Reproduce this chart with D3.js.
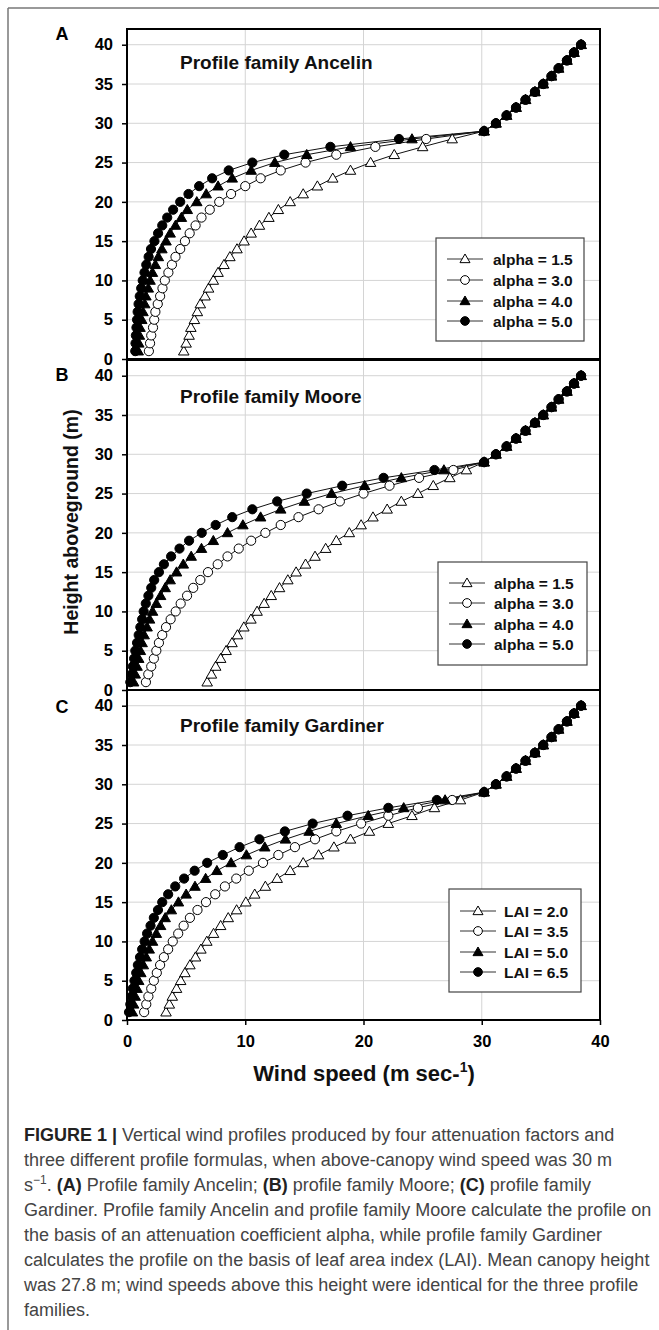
<!DOCTYPE html>
<html>
<head>
<meta charset="utf-8">
<script src="https://cdn.jsdelivr.net/npm/d3@7"></script>
<style>
  html, body { margin: 0; padding: 0; background: #fff; }
  svg { display: block; }
</style>
</head>
<body>
<svg id="chart" width="659" height="1330"></svg>
<script>
// ---------------- DATA ----------------
const heights = [1,2,3,4,5,6,7,8,9,10,11,12,13,14,15,16,17,18,19,20,
                 21,22,23,24,25,26,27,28,29,30,31,32,33,34,35,36,37,38,39,40];
// wind speed above canopy (heights 29..40), identical for all profiles
const aboveCanopy = [30.2, 31.2, 32.1, 32.9, 33.7, 34.5, 35.2, 35.9, 36.5, 37.2, 37.8, 38.4];

// Panel A: Ancelin (heights 1..28)
const ancelin15 = [4.8,5.0,5.25,5.4,5.7,5.95,6.2,6.6,6.9,7.3,7.7,8.2,8.7,9.3,9.9,10.5,11.2,12.0,12.8,13.8,14.9,16.1,17.4,18.9,20.6,22.6,25.0,27.5];
const ancelin30 = [1.85,1.95,2.05,2.2,2.3,2.4,2.6,2.8,3.0,3.2,3.5,3.8,4.1,4.5,4.9,5.3,5.8,6.3,7.0,7.8,8.8,10.0,11.3,13.0,15.1,17.7,21.0,25.3];
const ancelin40 = [0.95,1.0,1.05,1.1,1.25,1.35,1.5,1.6,1.8,1.95,2.15,2.4,2.65,2.95,3.3,3.65,4.1,4.6,5.1,5.9,6.7,7.7,8.9,10.5,12.5,15.2,18.9,24.1];
const ancelin50 = [0.7,0.72,0.75,0.8,0.85,0.9,0.98,1.08,1.2,1.33,1.48,1.63,1.83,2.03,2.32,2.63,2.98,3.4,3.9,4.5,5.2,6.1,7.2,8.6,10.6,13.3,17.2,23.0];

// Panel B: Moore
const moore15 = [6.78,7.14,7.5,7.92,8.38,8.88,9.34,9.88,10.48,11.0,11.6,12.2,12.9,13.6,14.3,15.1,15.9,16.8,17.7,18.8,19.8,20.8,22.0,23.2,24.6,25.9,27.3,28.7];
const moore30 = [1.6,1.8,2.05,2.27,2.48,2.7,2.98,3.3,3.69,4.12,4.54,5.08,5.6,6.2,6.85,7.67,8.5,9.45,10.5,11.7,13.0,14.5,16.2,18.0,20.0,22.2,24.7,27.6];
const moore40 = [0.56,0.7,0.85,0.99,1.13,1.28,1.45,1.7,1.91,2.16,2.48,2.84,3.23,3.65,4.19,4.76,5.43,6.3,7.3,8.5,9.8,11.3,13.0,15.0,17.3,20.1,23.2,26.8];
const moore50 = [0.28,0.39,0.49,0.6,0.7,0.85,0.99,1.13,1.28,1.41,1.59,1.81,2.05,2.3,2.7,3.12,3.73,4.44,5.25,6.32,7.5,8.9,10.6,12.7,15.2,18.2,21.7,26.0];

// Panel C: Gardiner
const gard20 = [3.3,3.58,3.83,4.19,4.54,4.9,5.32,5.79,6.25,6.75,7.32,7.92,8.56,9.27,10.05,10.8,11.7,12.7,13.8,14.9,16.2,17.5,18.9,20.5,22.1,24.1,26.0,28.2];
const gard35 = [1.45,1.63,1.81,2.05,2.27,2.52,2.8,3.12,3.48,3.87,4.33,4.79,5.32,5.96,6.68,7.46,8.28,9.24,10.3,11.5,12.8,14.2,15.9,17.7,19.8,22.1,24.6,27.5];
const gard50 = [0.46,0.56,0.7,0.85,0.99,1.17,1.38,1.63,1.88,2.16,2.48,2.84,3.23,3.75,4.35,5.0,5.75,6.65,7.6,8.8,10.1,11.65,13.4,15.4,17.7,20.4,23.4,26.9];
const gard65 = [0.17,0.28,0.39,0.49,0.63,0.78,0.92,1.1,1.28,1.49,1.7,1.99,2.27,2.62,2.98,3.48,4.08,4.83,5.72,6.78,8.1,9.52,11.2,13.35,15.7,18.65,22.1,26.2];

const xTicks = [0, 10, 20, 30, 40];
const yTicks = [0, 5, 10, 15, 20, 25, 30, 35, 40];
const alphaLabels = ["alpha = 1.5", "alpha = 3.0", "alpha = 4.0", "alpha = 5.0"];
const laiLabels = ["LAI = 2.0", "LAI = 3.5", "LAI = 5.0", "LAI = 6.5"];
const panelLetters = ["A", "B", "C"];
const panelTitles = ["Profile family Ancelin", "Profile family Moore", "Profile family Gardiner"];
const markerTypes = ["openTri", "openCircle", "fillTri", "fillCircle"];

// ---------------- LAYOUT ----------------
const svg = d3.select("#chart");
const FONT = "'Liberation Sans', Arial, Helvetica, sans-serif";

const x = d3.scaleLinear().domain([0, 40]).range([127, 600]);

const panels = [
  { top: 29, bottom: 359, series: [ancelin15, ancelin30, ancelin40, ancelin50], labels: alphaLabels,
    legend: { x: 436, y: 238, w: 148, h: 103, sym: 465, text: 493, rows: [259, 280, 301, 321] },
    titleY: 69, letterY: 40 },
  { top: 360, bottom: 690, series: [moore15, moore30, moore40, moore50], labels: alphaLabels,
    legend: { x: 438, y: 562, w: 149, h: 103, sym: 467, text: 494, rows: [583, 603, 624, 644] },
    titleY: 403, letterY: 381 },
  { top: 690, bottom: 1020, series: [gard20, gard35, gard50, gard65], labels: laiLabels,
    legend: { x: 449, y: 889, w: 132, h: 103, sym: 478, text: 504, rows: [911, 931, 952, 972] },
    titleY: 732, letterY: 713 }
];

// outer figure border (top and left)
svg.append("line").attr("x1", 8).attr("y1", 8).attr("x2", 659).attr("y2", 8)
  .attr("stroke", "#777").attr("stroke-width", 1.5);
svg.append("line").attr("x1", 8).attr("y1", 8).attr("x2", 8).attr("y2", 1330)
  .attr("stroke", "#777").attr("stroke-width", 1.5);

function drawMarker(g, type, cx, cy, scale) {
  const s = scale || 1;
  if (type === "openCircle" || type === "fillCircle") {
    g.append("circle").attr("cx", cx).attr("cy", cy).attr("r", 4.6 * s)
      .attr("fill", type === "fillCircle" ? "#000" : "#fff")
      .attr("stroke", "#000").attr("stroke-width", 1);
  } else {
    const sym = d3.symbol().type(d3.symbolTriangle).size(48 * s * s);
    g.append("path").attr("d", sym()).attr("transform", `translate(${cx},${cy + 0.8 * s})`)
      .attr("fill", type === "fillTri" ? "#000" : "#fff")
      .attr("stroke", "#000").attr("stroke-width", 1);
  }
}

panels.forEach((p, pi) => {
  const y = d3.scaleLinear().domain([0, 42]).range([p.bottom, p.top]);
  const g = svg.append("g");

  // gridlines
  g.append("g").selectAll("line").data(yTicks.filter(t => t > 0)).join("line")
    .attr("x1", x(0)).attr("x2", x(40)).attr("y1", d => y(d)).attr("y2", d => y(d))
    .attr("stroke", "#d4d4d4").attr("stroke-width", 1);
  g.append("g").selectAll("line").data(xTicks.filter(t => t > 0 && t < 40)).join("line")
    .attr("x1", d => x(d)).attr("x2", d => x(d)).attr("y1", p.top).attr("y2", p.bottom)
    .attr("stroke", "#d4d4d4").attr("stroke-width", 1);

  // y axis
  const yAxis = d3.axisLeft(y).tickValues(yTicks).tickSize(5).tickPadding(9);
  const ya = g.append("g").attr("transform", `translate(${x(0)},0)`).call(yAxis);
  ya.select(".domain").remove();
  ya.selectAll(".tick line").attr("stroke", "#000").attr("stroke-width", 1.5);
  ya.selectAll(".tick text").attr("font-family", FONT).attr("font-weight", "bold")
    .attr("font-size", 16.5).attr("fill", "#000");

  // x axis on bottom panel
  if (pi === 2) {
    const xAxis = d3.axisBottom(x).tickValues(xTicks).tickSize(5).tickPadding(10);
    const xa = g.append("g").attr("transform", `translate(0,${p.bottom})`).call(xAxis);
    xa.select(".domain").remove();
    xa.selectAll(".tick line").attr("stroke", "#000").attr("stroke-width", 1.5);
    xa.selectAll(".tick text").attr("font-family", FONT).attr("font-weight", "bold")
      .attr("font-size", 16.5).attr("fill", "#000");
  }

  // series lines + markers
  const line = d3.line().x(d => x(d.u)).y(d => y(d.h));
  const toPts = ser => heights.map((h, i) => ({ h: h, u: i < ser.length ? ser[i] : aboveCanopy[i - ser.length] }));
  p.series.forEach(ser => {
    g.append("path").datum(toPts(ser)).attr("d", line)
      .attr("fill", "none").attr("stroke", "#111").attr("stroke-width", 1);
  });
  p.series.forEach((ser, si) => {
    const mg = g.append("g");
    toPts(ser).forEach(d => drawMarker(mg, markerTypes[si], x(d.u), y(d.h)));
  });

  // frame
  g.append("rect").attr("x", x(0)).attr("y", p.top).attr("width", x(40) - x(0)).attr("height", p.bottom - p.top)
    .attr("fill", "none").attr("stroke", "#000").attr("stroke-width", 2);

  // panel title
  g.append("text").attr("x", 180).attr("y", p.titleY).text(panelTitles[pi])
    .attr("font-family", FONT).attr("font-weight", "bold").attr("font-size", 19).attr("fill", "#111");

  // panel letter
  svg.append("text").attr("x", 62).attr("y", p.letterY).attr("text-anchor", "middle").text(panelLetters[pi])
    .attr("font-family", FONT).attr("font-weight", "bold").attr("font-size", 18).attr("fill", "#000");

  // legend
  const L = p.legend;
  const lg = g.append("g");
  lg.append("rect").attr("x", L.x).attr("y", L.y).attr("width", L.w).attr("height", L.h)
    .attr("fill", "#fff").attr("stroke", "#444").attr("stroke-width", 1.2);
  p.labels.forEach((lab, li) => {
    const ry = L.rows[li];
    lg.append("line").attr("x1", L.sym - 18).attr("x2", L.sym + 18).attr("y1", ry).attr("y2", ry)
      .attr("stroke", "#333").attr("stroke-width", 1);
    drawMarker(lg, markerTypes[li], L.sym, ry, 0.95);
    lg.append("text").attr("x", L.text).attr("y", ry).attr("dy", "0.36em").text(lab)
      .attr("font-family", FONT).attr("font-weight", "bold").attr("font-size", 15.5).attr("fill", "#111");
  });
});

// axis titles
svg.append("text").attr("transform", "translate(78,522) rotate(-90)").attr("text-anchor", "middle")
  .text("Height aboveground (m)")
  .attr("font-family", FONT).attr("font-weight", "bold").attr("font-size", 19.5).attr("fill", "#111");

const xt = svg.append("text").attr("x", 364).attr("y", 1081).attr("text-anchor", "middle")
  .attr("font-family", FONT).attr("font-weight", "bold").attr("font-size", 22).attr("fill", "#111");
xt.append("tspan").text("Wind speed (m sec-");
xt.append("tspan").attr("dy", -9).attr("font-size", 14).text("1");
xt.append("tspan").attr("dy", 9).text(")");

// caption (condensed via horizontal scale)
const capLines = [
  [["FIGURE 1 | ", "b"], ["Vertical wind profiles produced by four attenuation factors and", ""]],
  [["three different profile formulas, when above-canopy wind speed was 30 m", ""]],
  [["s", ""], ["−1", "sup"], [". ", "down"], ["(A)", "b"], [" Profile family Ancelin; ", ""], ["(B)", "b"], [" profile family Moore; ", ""], ["(C)", "b"], [" profile family", ""]],
  [["Gardiner. Profile family Ancelin and profile family Moore calculate the profile on", ""]],
  [["the basis of an attenuation coefficient alpha, while profile family Gardiner", ""]],
  [["calculates the profile on the basis of leaf area index (LAI). Mean canopy height", ""]],
  [["was 27.8 m; wind speeds above this height were identical for the three profile", ""]],
  [["families.", ""]]
];
const capTargets = [597, 594, 569, 623, 576, 622, 620, null];
const capBase = [1141, 1166, 1191, 1216, 1241, 1266, 1291, 1316];
const capTexts = capLines.map((ln, i) => {
  const t = svg.append("text").attr("x", 0).attr("y", 0)
    .attr("font-family", FONT).attr("font-size", 18).attr("fill", "#444");
  ln.forEach(pt => {
    const ts = t.append("tspan").text(pt[0]);
    if (pt[1] === "b") ts.attr("font-weight", "bold").attr("fill", "#222");
    if (pt[1] === "sup") ts.attr("dy", -7).attr("font-size", 12);
    if (pt[1] === "down") ts.attr("dy", 7);
  });
  return t;
});
// single consistent horizontal scale derived from the reference line widths
let ratios = [];
capTexts.forEach((t, i) => { if (capTargets[i]) ratios.push(capTargets[i] / t.node().getComputedTextLength()); });
const sx = Math.min(1, d3.mean(ratios));
capTexts.forEach((t, i) => t.attr("transform", `translate(24,${capBase[i]}) scale(${sx},1)`));
</script>
</body>
</html>
